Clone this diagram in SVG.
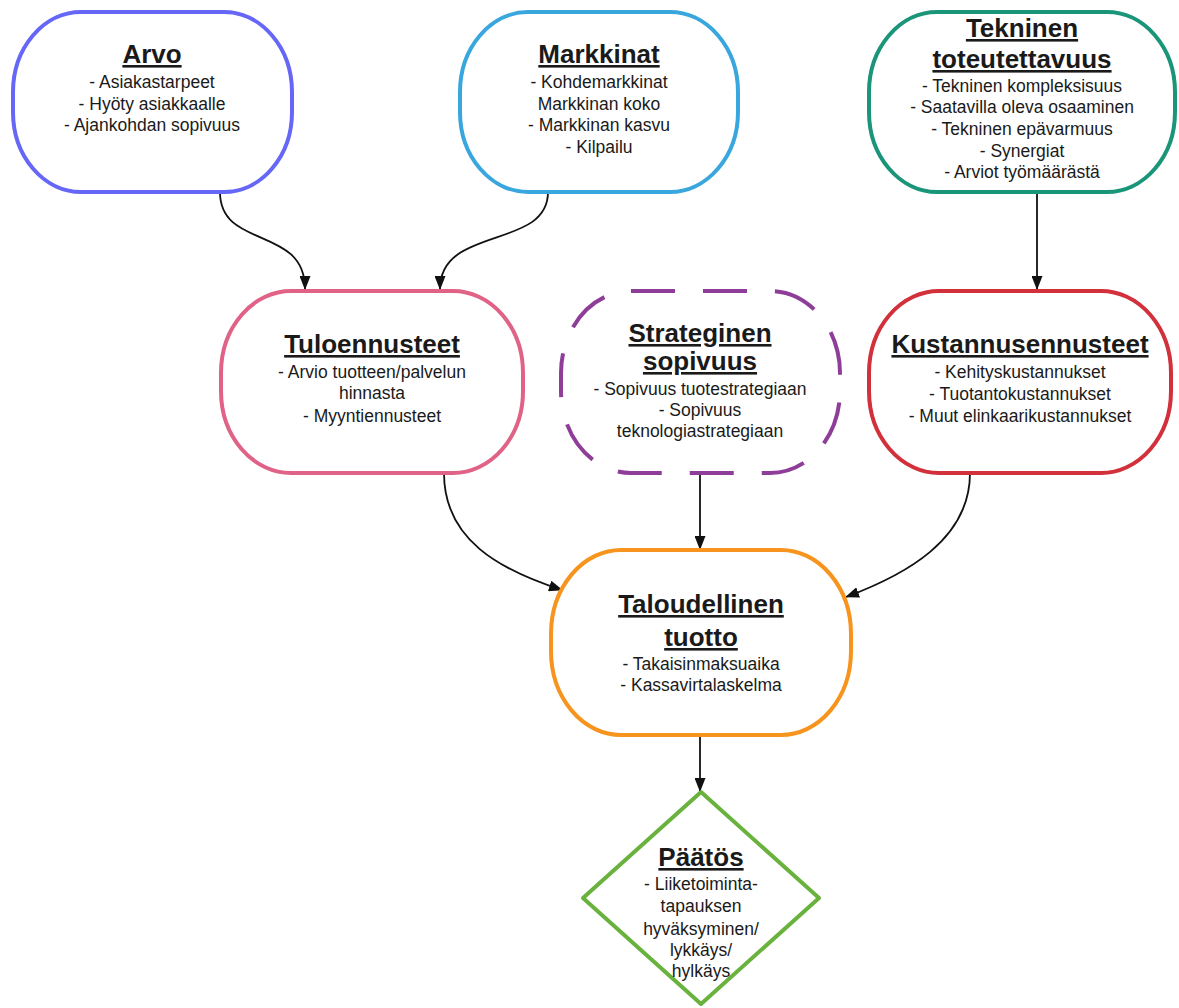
<svg xmlns="http://www.w3.org/2000/svg" width="1179" height="1008" viewBox="0 0 1179 1008">
<style>
.box{fill:#fff;stroke-width:4}
.t{font-family:"Liberation Sans",Arial,sans-serif;font-size:26px;font-weight:bold;text-decoration:underline;fill:#1a1a1a;text-anchor:middle}
.b{font-family:"Liberation Sans",Arial,sans-serif;font-size:17.5px;fill:#1a1a1a;text-anchor:middle}
.c{fill:none;stroke:#111;stroke-width:1.8}
</style>
<defs>
<marker id="ah" viewBox="0 0 14 11" refX="13" refY="5.5" markerWidth="14" markerHeight="11" markerUnits="userSpaceOnUse" orient="auto">
<path d="M0,0 L14,5.5 L0,11 Z" fill="#111"/>
</marker>
</defs>
<rect width="1179" height="1008" fill="#fff"/>
<g id="connectors">
<path class="c" d="M220,192 C220,250 305,225 305,289" marker-end="url(#ah)"/>
<path class="c" d="M548,192 C548,250 440,225 440,289" marker-end="url(#ah)"/>
<path class="c" d="M1037,192 L1037,289" marker-end="url(#ah)"/>
<path class="c" d="M444,473 C444,540 500,570 562,590" marker-end="url(#ah)"/>
<path class="c" d="M700,473 L700,549" marker-end="url(#ah)"/>
<path class="c" d="M970,473 C970,540 905,575 846,597" marker-end="url(#ah)"/>
<path class="c" d="M700,735 L700,791" marker-end="url(#ah)"/>
</g>
<g id="arvo">
<rect class="box" x="13" y="12" width="279" height="180" rx="68" ry="80" stroke="#6767f7"/>
<text class="t" x="152" y="63">Arvo</text>
<text class="b" x="152" y="88">- Asiakastarpeet</text>
<text class="b" x="152" y="110">- Hyöty asiakkaalle</text>
<text class="b" x="152" y="131">- Ajankohdan sopivuus</text>
</g>
<g id="markkinat">
<rect class="box" x="460" y="12" width="278" height="180" rx="68" ry="80" stroke="#3aa6de"/>
<text class="t" x="599" y="63">Markkinat</text>
<text class="b" x="599" y="88">- Kohdemarkkinat</text>
<text class="b" x="599" y="110">Markkinan koko</text>
<text class="b" x="599" y="131">- Markkinan kasvu</text>
<text class="b" x="599" y="153">- Kilpailu</text>
</g>
<g id="tekninen">
<rect class="box" x="869" y="12" width="306" height="180" rx="68" ry="80" stroke="#1a9579"/>
<text class="t" x="1022" y="37">Tekninen</text>
<text class="t" x="1022" y="68">toteutettavuus</text>
<text class="b" x="1022" y="92">- Tekninen kompleksisuus</text>
<text class="b" x="1022" y="113">- Saatavilla oleva osaaminen</text>
<text class="b" x="1022" y="135">- Tekninen epävarmuus</text>
<text class="b" x="1022" y="157">- Synergiat</text>
<text class="b" x="1022" y="178">- Arviot työmäärästä</text>
</g>
<g id="tuloennusteet">
<rect class="box" x="221" y="291" width="302" height="182" rx="70" ry="82" stroke="#e06387"/>
<text class="t" x="372" y="353">Tuloennusteet</text>
<text class="b" x="372" y="378">- Arvio tuotteen/palvelun</text>
<text class="b" x="372" y="399">hinnasta</text>
<text class="b" x="372" y="422">- Myyntiennusteet</text>
</g>
<g id="strateginen">
<rect class="box" x="561" y="291" width="279" height="182" rx="70" ry="82" stroke="#8e3e99" stroke-dasharray="44 28"/>
<text class="t" x="700" y="342">Strateginen</text>
<text class="t" x="700" y="370">sopivuus</text>
<text class="b" x="700" y="395">- Sopivuus tuotestrategiaan</text>
<text class="b" x="700" y="416">- Sopivuus</text>
<text class="b" x="700" y="437">teknologiastrategiaan</text>
</g>
<g id="kustannusennusteet">
<rect class="box" x="869" y="291" width="302" height="182" rx="70" ry="82" stroke="#d2303b"/>
<text class="t" x="1020" y="353">Kustannusennusteet</text>
<text class="b" x="1020" y="378">- Kehityskustannukset</text>
<text class="b" x="1020" y="400">- Tuotantokustannukset</text>
<text class="b" x="1020" y="422">- Muut elinkaarikustannukset</text>
</g>
<g id="taloudellinen">
<rect class="box" x="551" y="550" width="300" height="185" rx="70" ry="84" stroke="#f7941d"/>
<text class="t" x="701" y="613">Taloudellinen</text>
<text class="t" x="701" y="646">tuotto</text>
<text class="b" x="701" y="670">-  Takaisinmaksuaika</text>
<text class="b" x="701" y="691">- Kassavirtalaskelma</text>
</g>
<g id="paatos">
<path class="box" d="M701,792 L819,898 L701,1004 L583,898 Z" stroke="#6ab23e" stroke-linejoin="round"/>
<text class="t" x="701" y="866">Päätös</text>
<text class="b" x="701" y="890">- Liiketoiminta-</text>
<text class="b" x="701" y="912">tapauksen</text>
<text class="b" x="701" y="935">hyväksyminen/</text>
<text class="b" x="701" y="956">lykkäys/</text>
<text class="b" x="701" y="977">hylkäys</text>
</g>
</svg>
